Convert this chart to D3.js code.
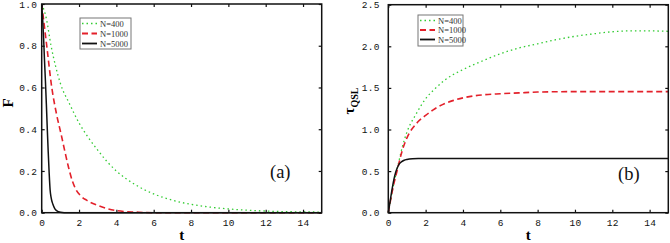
<!DOCTYPE html>
<html><head><meta charset="utf-8">
<script src="https://cdn.jsdelivr.net/npm/d3@7"></script>
<style>body{margin:0;background:#fff}svg{display:block}</style>
</head><body>
<svg id="c" width="670" height="243"></svg>
<script>
// ---- data ----
const seriesNames = ["N=400", "N=1000", "N=5000"];
const xTicks = [0, 2, 4, 6, 8, 10, 12, 14];
const yTicksA = [0, 0.2, 0.4, 0.6, 0.8, 1.0];
const yTicksB = [0, 0.5, 1.0, 1.5, 2.0, 2.5];

// panel (a): F(t)
const fA400 = [[0,1],[0.25,0.93],[0.5,0.8],[0.75,0.7],[1,0.62],[1.5,0.52],[2,0.43],[2.5,0.36],[3,0.3],[3.5,0.245],[4,0.2],[5,0.135],[6,0.09],[7,0.06],[8,0.04],[9,0.027],[10,0.018],[11,0.012],[12,0.008],[13,0.005],[14,0.004],[15,0.003]];
const fA1000 = [[0,1],[0.27,0.8],[0.54,0.6],[0.8,0.47],[1.03,0.38],[1.25,0.29],[1.43,0.22],[1.65,0.15],[1.84,0.11],[2.1,0.08],[2.4,0.06],[3,0.035],[3.5,0.02],[4,0.01],[4.5,0.005],[5,0.003],[5.5,0.001],[6,0],[15,0]];
const fA5000 = [[0,1],[0.05,0.93],[0.1,0.84],[0.15,0.73],[0.2,0.63],[0.25,0.52],[0.3,0.4],[0.35,0.29],[0.4,0.19],[0.45,0.11],[0.5,0.075],[0.6,0.04],[0.7,0.02],[0.8,0.01],[0.9,0.005],[1.0,0.002],[1.2,0],[15,0]];

// panel (b): tau_QSL(t)
const tB400 = [[0,0],[0.25,0.3],[0.5,0.55],[0.75,0.79],[1,0.97],[1.5,1.19],[2,1.37],[2.5,1.49],[3,1.59],[4,1.72],[5,1.82],[6,1.91],[7,1.98],[8,2.03],[9,2.08],[10,2.12],[11,2.15],[12,2.175],[13,2.185],[14,2.185],[15,2.18]];
const tB1000 = [[0,0],[0.25,0.3],[0.5,0.53],[0.75,0.75],[1,0.9],[1.5,1.07],[2,1.17],[2.5,1.25],[3,1.31],[3.5,1.35],[4,1.38],[5,1.415],[6,1.43],[7,1.44],[8,1.45],[10,1.455],[15,1.455]];
const tB5000 = [[0,0],[0.1,0.14],[0.2,0.28],[0.3,0.4],[0.4,0.49],[0.5,0.55],[0.6,0.59],[0.7,0.61],[0.85,0.63],[1,0.64],[1.3,0.648],[1.6,0.65],[15,0.65]];

const styles = [
  {color:"#33cc33", dash:"1.5,3", width:1.3},
  {color:"#e3202a", dash:"6,3.5", width:1.6},
  {color:"#111111", dash:null, width:1.5}
];

const svg = d3.select("#c");
const tickFont = "'Liberation Mono', 'DejaVu Sans Mono', monospace";
const serif = "'Liberation Serif', 'DejaVu Serif', serif";

function panel(cfg){
  const x = d3.scaleLinear().domain([0,15]).range([cfg.x0, cfg.x1]);
  const y = d3.scaleLinear().domain([0, cfg.ymax]).range([cfg.y0, cfg.y1]);
  const g = svg.append("g");

  const line = d3.line().x(d=>x(d[0])).y(d=>y(d[1])).curve(d3.curveMonotoneX);
  cfg.series.forEach((s,i)=>{
    g.append("path").datum(s).attr("d", line).attr("fill","none")
      .attr("stroke", styles[i].color).attr("stroke-width", styles[i].width)
      .attr("stroke-dasharray", styles[i].dash);
  });

  const tl = 3;
  const ax = g.append("g").attr("transform",`translate(0,${cfg.y0})`)
    .call(d3.axisBottom(x).tickValues(xTicks).tickSize(-tl).tickPadding(7).tickFormat(d3.format("d")));
  const axT = g.append("g").attr("transform",`translate(0,${cfg.y1})`)
    .call(d3.axisTop(x).tickValues(xTicks).tickSize(-tl).tickFormat(""));
  const ay = g.append("g").attr("transform",`translate(${cfg.x0},0)`)
    .call(d3.axisLeft(y).tickValues(cfg.yTicks).tickSize(-tl).tickPadding(cfg.ypad).tickFormat(d3.format(".1f")));
  const ayR = g.append("g").attr("transform",`translate(${cfg.x1},0)`)
    .call(d3.axisRight(y).tickValues(cfg.yTicks).tickSize(-tl).tickFormat(""));
  [ax,axT,ay,ayR].forEach(a=>{
    a.select(".domain").remove();
    a.selectAll(".tick line").attr("stroke","#111").attr("stroke-width",1.2);
    a.selectAll("text").attr("font-family", tickFont).attr("font-size", 9.5)
      .attr("fill","#111").attr("letter-spacing", 0.3);
  });

  g.append("rect").attr("x",cfg.x0).attr("y",cfg.y1).attr("width",cfg.x1-cfg.x0).attr("height",cfg.y0-cfg.y1)
    .attr("fill","none").attr("stroke","#111").attr("stroke-width",1.5);

  const L = cfg.legend;
  g.append("rect").attr("x",L.x).attr("y",L.y).attr("width",L.w).attr("height",L.h)
    .attr("fill","#fff").attr("stroke","#777").attr("stroke-width",1);
  seriesNames.forEach((n,i)=>{
    const yy = L.y + 5.5 + i*L.dy;
    g.append("line").attr("x1",L.x+2).attr("x2",L.x+17).attr("y1",yy).attr("y2",yy)
      .attr("stroke",styles[i].color).attr("stroke-width",styles[i].width+0.3)
      .attr("stroke-dasharray",styles[i].dash);
    g.append("text").attr("x",L.x+20).attr("y",yy+3).text(n)
      .attr("font-family",serif).attr("font-size",8.5).attr("fill","#333");
  });

  g.append("text").attr("x",cfg.lab[0]).attr("y",cfg.lab[1]).text(cfg.label)
    .attr("font-family",serif).attr("font-size",18.5).attr("fill","#111");

  g.append("text").attr("x",(cfg.x0+cfg.x1)/2).attr("y",240).attr("text-anchor","middle")
    .attr("font-family",serif).attr("font-weight","bold").attr("font-size",15).text("t");
  return g;
}

panel({x0:41.7,x1:321.7,y0:212.7,y1:4,ymax:1.0,yTicks:yTicksA,ypad:4.5,
  series:[fA400,fA1000,fA5000],legend:{x:80,y:18,w:51,h:31,dy:10},lab:[270,178],label:"(a)"});
panel({x0:388.3,x1:668.3,y0:212.7,y1:4.7,ymax:2.5,yTicks:yTicksB,ypad:8.5,
  series:[tB400,tB1000,tB5000],legend:{x:418,y:15,w:45,h:31,dy:9.5},lab:[618,180],label:"(b)"});

svg.append("text").attr("transform","translate(13,103) rotate(-90)").attr("text-anchor","middle")
  .attr("font-family",serif).attr("font-weight","bold").attr("font-size",15).text("F");
const tt = svg.append("text").attr("transform","translate(354,101) rotate(-90)").attr("text-anchor","middle")
  .attr("font-family",serif).attr("font-weight","bold").attr("font-size",15);
tt.append("tspan").text("τ");
tt.append("tspan").attr("font-size",10).attr("dy",4).text("QSL");
</script>
</body></html>
